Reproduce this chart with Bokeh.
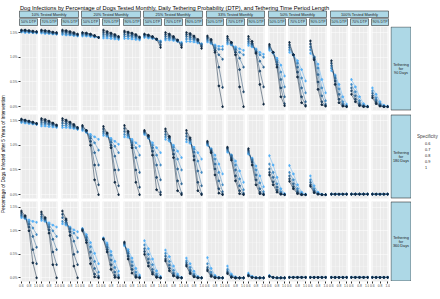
import math
from bokeh.plotting import figure
from bokeh.layouts import row, column
from bokeh.core.properties import value
from bokeh.models import (Range1d, LinearAxis, FixedTicker, PrintfTickFormatter, Label,
                          Legend, LegendItem, Spacer, ColumnDataSource)
from bokeh.embed import file_html
from bokeh.resources import INLINE

# ---------------- data ----------------
SENS = [0.6, 0.7, 0.8, 0.9, 1.0]
SPECS = [0.6, 0.7, 0.8, 0.9, 1.0]
SPEC_LABELS = ["0.6", "0.7", "0.8", "0.9", "1"]
TESTED = ["10% Tested Monthly", "20% Tested Monthly", "25% Tested Monthly",
          "33% Tested Monthly", "50% Tested Monthly", "100% Tested Monthly"]
DTP = ["50% DTP", "70% DTP", "90% DTP"]
PERIODS = ["Tethering\nfor\n90 Days", "Tethering\nfor\n180 Days", "Tethering\nfor\n360 Days"]
Y_TICKS = [0.0, 0.5, 1.0, 1.5]
X_TICKS = [0.6, 0.8, 1.0]

# % of dogs infected; each list: 18 panels (tested x DTP), 5 sensitivities each
INF90_SPEC06 = [
    [1.51, 1.50, 1.50, 1.50, 1.49], [1.49, 1.48, 1.48, 1.47, 1.47], [1.46, 1.45, 1.45, 1.44, 1.43],
    [1.43, 1.43, 1.42, 1.41, 1.40], [1.39, 1.39, 1.38, 1.37, 1.36], [1.38, 1.38, 1.37, 1.36, 1.35],
    [1.40, 1.39, 1.38, 1.36, 1.33], [1.35, 1.35, 1.34, 1.32, 1.30], [1.32, 1.32, 1.31, 1.29, 1.27],
    [1.31, 1.28, 1.25, 1.22, 1.22], [1.27, 1.25, 1.21, 1.17, 1.14], [1.24, 1.21, 1.17, 1.10, 1.06],
    [1.14, 1.08, 0.98, 0.84, 0.62], [1.10, 1.04, 0.93, 0.75, 0.52], [1.08, 1.00, 0.86, 0.55, 0.28],
    [0.73, 0.64, 0.45, 0.20, 0.05], [0.55, 0.40, 0.20, 0.06, 0.01], [0.38, 0.25, 0.10, 0.03, 0.01]]
INF90_SPEC07 = [
    [1.52, 1.52, 1.51, 1.50, 1.50], [1.51, 1.50, 1.49, 1.48, 1.47], [1.48, 1.47, 1.46, 1.45, 1.44],
    [1.45, 1.45, 1.44, 1.42, 1.40], [1.43, 1.43, 1.42, 1.40, 1.38], [1.42, 1.42, 1.41, 1.39, 1.37],
    [1.42, 1.41, 1.39, 1.36, 1.32], [1.38, 1.38, 1.36, 1.33, 1.28], [1.37, 1.37, 1.35, 1.31, 1.27],
    [1.34, 1.29, 1.22, 1.16, 1.16], [1.30, 1.26, 1.18, 1.10, 1.05], [1.28, 1.23, 1.15, 1.05, 1.00],
    [1.17, 1.09, 0.94, 0.70, 0.40], [1.15, 1.05, 0.88, 0.58, 0.28], [1.15, 1.01, 0.78, 0.38, 0.12],
    [0.78, 0.62, 0.36, 0.10, 0.02], [0.45, 0.30, 0.12, 0.03, 0.00], [0.32, 0.18, 0.06, 0.01, 0.00]]
INF90_SPEC08 = [
    [1.53, 1.53, 1.52, 1.51, 1.51], [1.52, 1.51, 1.50, 1.49, 1.48], [1.51, 1.50, 1.48, 1.47, 1.45],
    [1.47, 1.46, 1.45, 1.43, 1.40], [1.47, 1.46, 1.44, 1.42, 1.40], [1.46, 1.45, 1.44, 1.42, 1.39],
    [1.44, 1.43, 1.40, 1.36, 1.30], [1.42, 1.41, 1.38, 1.33, 1.27], [1.42, 1.41, 1.38, 1.33, 1.25],
    [1.37, 1.31, 1.18, 1.05, 0.96], [1.34, 1.28, 1.15, 0.98, 0.80], [1.32, 1.26, 1.12, 0.92, 0.80],
    [1.20, 1.10, 0.90, 0.55, 0.20], [1.20, 1.05, 0.80, 0.38, 0.10], [1.21, 1.00, 0.65, 0.22, 0.05],
    [0.83, 0.58, 0.25, 0.05, 0.01], [0.38, 0.22, 0.07, 0.01, 0.00], [0.27, 0.13, 0.04, 0.01, 0.00]]
INF90_SPEC09 = [
    [1.54, 1.54, 1.53, 1.52, 1.51], [1.54, 1.53, 1.52, 1.50, 1.49], [1.53, 1.52, 1.50, 1.48, 1.46],
    [1.49, 1.48, 1.46, 1.43, 1.40], [1.51, 1.49, 1.47, 1.44, 1.41], [1.50, 1.49, 1.47, 1.44, 1.40],
    [1.46, 1.44, 1.41, 1.36, 1.25], [1.46, 1.44, 1.40, 1.34, 1.24], [1.46, 1.45, 1.41, 1.34, 1.22],
    [1.40, 1.34, 1.14, 0.80, 0.39], [1.38, 1.30, 1.10, 0.75, 0.30], [1.37, 1.28, 1.10, 0.72, 0.40],
    [1.23, 1.10, 0.85, 0.38, 0.06], [1.25, 1.05, 0.70, 0.20, 0.03], [1.27, 0.98, 0.50, 0.10, 0.02],
    [0.88, 0.52, 0.15, 0.02, 0.00], [0.32, 0.15, 0.04, 0.01, 0.00], [0.22, 0.09, 0.02, 0.00, 0.00]]
INF90_SPEC10 = [
    [1.55, 1.55, 1.54, 1.53, 1.52], [1.55, 1.54, 1.53, 1.51, 1.50], [1.55, 1.54, 1.52, 1.50, 1.47],
    [1.50, 1.49, 1.47, 1.44, 1.40], [1.55, 1.52, 1.49, 1.46, 1.42], [1.53, 1.51, 1.49, 1.46, 1.41],
    [1.47, 1.45, 1.42, 1.37, 1.20], [1.50, 1.47, 1.42, 1.35, 1.20], [1.50, 1.48, 1.43, 1.36, 1.18],
    [1.43, 1.36, 1.10, 0.42, 0.00], [1.42, 1.30, 1.05, 0.40, 0.00], [1.42, 1.32, 1.08, 0.45, 0.05],
    [1.26, 1.10, 0.80, 0.20, 0.02], [1.30, 1.05, 0.60, 0.08, 0.01], [1.33, 0.95, 0.35, 0.04, 0.01],
    [0.93, 0.45, 0.08, 0.01, 0.00], [0.25, 0.10, 0.02, 0.00, 0.00], [0.18, 0.06, 0.01, 0.00, 0.00]]

INF180_SPEC06 = [
    [1.46, 1.45, 1.44, 1.43, 1.42], [1.39, 1.39, 1.38, 1.37, 1.36], [1.36, 1.36, 1.35, 1.34, 1.32],
    [1.30, 1.26, 1.22, 1.17, 1.12], [1.20, 1.18, 1.14, 1.08, 1.02], [1.17, 1.16, 1.12, 1.05, 0.98],
    [1.22, 1.14, 1.05, 0.95, 0.85], [1.12, 1.08, 1.00, 0.88, 0.75], [1.07, 1.04, 0.96, 0.85, 0.72],
    [1.00, 0.93, 0.80, 0.62, 0.42], [0.86, 0.80, 0.68, 0.48, 0.25], [0.82, 0.74, 0.58, 0.38, 0.16],
    [0.79, 0.60, 0.35, 0.12, 0.02], [0.59, 0.42, 0.20, 0.05, 0.01], [0.38, 0.18, 0.05, 0.01, 0.00],
    [0.01, 0.01, 0.01, 0.01, 0.01], [0.01, 0.01, 0.01, 0.01, 0.01], [0.01, 0.01, 0.01, 0.01, 0.01]]
INF180_SPEC07 = [
    [1.48, 1.47, 1.46, 1.44, 1.43], [1.43, 1.43, 1.42, 1.40, 1.38], [1.40, 1.40, 1.38, 1.36, 1.33],
    [1.32, 1.27, 1.18, 1.05, 0.90], [1.24, 1.20, 1.10, 0.98, 0.85], [1.22, 1.19, 1.08, 0.95, 0.80],
    [1.24, 1.15, 1.00, 0.80, 0.60], [1.17, 1.11, 0.96, 0.72, 0.50], [1.12, 1.07, 0.92, 0.68, 0.45],
    [1.02, 0.92, 0.72, 0.45, 0.20], [0.89, 0.80, 0.60, 0.32, 0.10], [0.84, 0.72, 0.50, 0.24, 0.06],
    [0.62, 0.45, 0.22, 0.06, 0.01], [0.45, 0.30, 0.12, 0.02, 0.00], [0.30, 0.12, 0.03, 0.00, 0.00],
    [0.01, 0.01, 0.01, 0.01, 0.01], [0.01, 0.01, 0.01, 0.01, 0.01], [0.01, 0.01, 0.01, 0.01, 0.01]]
INF180_SPEC08 = [
    [1.50, 1.49, 1.47, 1.45, 1.43], [1.47, 1.46, 1.44, 1.42, 1.39], [1.45, 1.44, 1.42, 1.38, 1.34],
    [1.35, 1.28, 1.14, 0.85, 0.60], [1.28, 1.22, 1.06, 0.78, 0.50], [1.28, 1.22, 1.05, 0.75, 0.45],
    [1.26, 1.16, 0.95, 0.60, 0.30], [1.22, 1.14, 0.90, 0.52, 0.22], [1.18, 1.10, 0.86, 0.48, 0.18],
    [1.04, 0.90, 0.62, 0.28, 0.06], [0.92, 0.78, 0.50, 0.18, 0.03], [0.87, 0.70, 0.40, 0.12, 0.02],
    [0.52, 0.35, 0.15, 0.03, 0.00], [0.38, 0.22, 0.07, 0.01, 0.00], [0.25, 0.08, 0.02, 0.00, 0.00],
    [0.01, 0.01, 0.01, 0.01, 0.01], [0.01, 0.01, 0.01, 0.01, 0.01], [0.01, 0.01, 0.01, 0.01, 0.01]]
INF180_SPEC09 = [
    [1.52, 1.50, 1.48, 1.46, 1.44], [1.51, 1.49, 1.47, 1.44, 1.40], [1.50, 1.48, 1.45, 1.40, 1.35],
    [1.38, 1.30, 1.08, 0.60, 0.20], [1.33, 1.24, 1.00, 0.50, 0.18], [1.34, 1.25, 1.00, 0.50, 0.15],
    [1.28, 1.18, 0.88, 0.35, 0.05], [1.28, 1.16, 0.82, 0.28, 0.03], [1.24, 1.12, 0.78, 0.25, 0.02],
    [1.06, 0.88, 0.52, 0.12, 0.01], [0.94, 0.74, 0.38, 0.08, 0.01], [0.90, 0.66, 0.30, 0.05, 0.00],
    [0.45, 0.26, 0.09, 0.01, 0.00], [0.32, 0.16, 0.04, 0.00, 0.00], [0.20, 0.06, 0.01, 0.00, 0.00],
    [0.01, 0.01, 0.01, 0.01, 0.01], [0.01, 0.01, 0.01, 0.01, 0.01], [0.01, 0.01, 0.01, 0.01, 0.01]]
INF180_SPEC10 = [
    [1.53, 1.51, 1.49, 1.47, 1.44], [1.54, 1.52, 1.49, 1.45, 1.41], [1.54, 1.51, 1.47, 1.42, 1.36],
    [1.40, 1.30, 1.00, 0.30, 0.00], [1.38, 1.25, 0.95, 0.25, 0.00], [1.40, 1.28, 0.95, 0.25, 0.00],
    [1.30, 1.20, 0.80, 0.10, 0.00], [1.33, 1.18, 0.75, 0.08, 0.00], [1.30, 1.15, 0.70, 0.08, 0.00],
    [1.08, 0.85, 0.40, 0.03, 0.00], [0.96, 0.70, 0.28, 0.02, 0.00], [0.93, 0.60, 0.20, 0.02, 0.00],
    [0.40, 0.20, 0.05, 0.01, 0.00], [0.27, 0.12, 0.02, 0.00, 0.00], [0.17, 0.04, 0.01, 0.00, 0.00],
    [0.01, 0.01, 0.01, 0.01, 0.01], [0.01, 0.01, 0.01, 0.01, 0.01], [0.01, 0.01, 0.01, 0.01, 0.01]]

INF360_SPEC06 = [
    [1.28, 1.26, 1.23, 1.20, 1.18], [1.22, 1.20, 1.17, 1.12, 1.08], [1.15, 1.12, 1.08, 1.02, 0.98],
    [1.05, 0.92, 0.75, 0.52, 0.30], [0.85, 0.74, 0.56, 0.35, 0.14], [0.68, 0.60, 0.42, 0.20, 0.06],
    [0.79, 0.62, 0.40, 0.15, 0.03], [0.59, 0.45, 0.25, 0.08, 0.01], [0.42, 0.30, 0.14, 0.03, 0.00],
    [0.43, 0.20, 0.05, 0.01, 0.00], [0.25, 0.08, 0.02, 0.00, 0.00], [0.10, 0.03, 0.01, 0.00, 0.00],
    [0.05, 0.01, 0.00, 0.00, 0.00], [0.01, 0.01, 0.01, 0.01, 0.01], [0.01, 0.01, 0.01, 0.01, 0.01],
    [0.01, 0.01, 0.01, 0.01, 0.01], [0.01, 0.01, 0.01, 0.01, 0.01], [0.01, 0.01, 0.01, 0.01, 0.01]]
INF360_SPEC07 = [
    [1.31, 1.27, 1.19, 1.06, 0.92], [1.26, 1.22, 1.13, 1.00, 0.88], [1.20, 1.15, 1.06, 0.95, 0.85],
    [1.04, 0.88, 0.66, 0.35, 0.12], [0.84, 0.70, 0.48, 0.22, 0.06], [0.70, 0.56, 0.34, 0.12, 0.03],
    [0.70, 0.50, 0.28, 0.08, 0.01], [0.52, 0.35, 0.16, 0.04, 0.00], [0.36, 0.22, 0.08, 0.01, 0.00],
    [0.30, 0.12, 0.03, 0.00, 0.00], [0.18, 0.05, 0.01, 0.00, 0.00], [0.07, 0.02, 0.00, 0.00, 0.00],
    [0.04, 0.01, 0.00, 0.00, 0.00], [0.01, 0.01, 0.01, 0.01, 0.01], [0.01, 0.01, 0.01, 0.01, 0.01],
    [0.01, 0.01, 0.01, 0.01, 0.01], [0.01, 0.01, 0.01, 0.01, 0.01], [0.01, 0.01, 0.01, 0.01, 0.01]]
INF360_SPEC08 = [
    [1.34, 1.28, 1.14, 0.88, 0.65], [1.30, 1.24, 1.08, 0.82, 0.60], [1.28, 1.18, 1.04, 0.78, 0.55],
    [1.03, 0.85, 0.55, 0.20, 0.04], [0.83, 0.65, 0.38, 0.12, 0.02], [0.72, 0.52, 0.26, 0.06, 0.01],
    [0.62, 0.40, 0.18, 0.04, 0.00], [0.46, 0.27, 0.10, 0.02, 0.00], [0.32, 0.16, 0.05, 0.01, 0.00],
    [0.22, 0.07, 0.01, 0.00, 0.00], [0.14, 0.03, 0.00, 0.00, 0.00], [0.06, 0.01, 0.00, 0.00, 0.00],
    [0.04, 0.01, 0.00, 0.00, 0.00], [0.01, 0.01, 0.01, 0.01, 0.01], [0.01, 0.01, 0.01, 0.01, 0.01],
    [0.01, 0.01, 0.01, 0.01, 0.01], [0.01, 0.01, 0.01, 0.01, 0.01], [0.01, 0.01, 0.01, 0.01, 0.01]]
INF360_SPEC09 = [
    [1.38, 1.30, 1.08, 0.60, 0.30], [1.35, 1.26, 1.02, 0.55, 0.28], [1.35, 1.22, 0.98, 0.50, 0.28],
    [1.02, 0.80, 0.42, 0.08, 0.01], [0.82, 0.60, 0.28, 0.05, 0.00], [0.74, 0.46, 0.18, 0.03, 0.00],
    [0.56, 0.32, 0.12, 0.02, 0.00], [0.40, 0.20, 0.06, 0.01, 0.00], [0.28, 0.12, 0.03, 0.00, 0.00],
    [0.18, 0.05, 0.01, 0.00, 0.00], [0.11, 0.02, 0.00, 0.00, 0.00], [0.05, 0.01, 0.00, 0.00, 0.00],
    [0.03, 0.01, 0.00, 0.00, 0.00], [0.01, 0.01, 0.01, 0.01, 0.01], [0.01, 0.01, 0.01, 0.01, 0.01],
    [0.01, 0.01, 0.01, 0.01, 0.01], [0.01, 0.01, 0.01, 0.01, 0.01], [0.01, 0.01, 0.01, 0.01, 0.01]]
INF360_SPEC10 = [
    [1.42, 1.32, 1.00, 0.32, 0.00], [1.40, 1.28, 0.95, 0.28, 0.00], [1.42, 1.25, 0.90, 0.25, 0.00],
    [1.00, 0.75, 0.30, 0.02, 0.00], [0.82, 0.55, 0.18, 0.01, 0.00], [0.76, 0.40, 0.10, 0.01, 0.00],
    [0.50, 0.25, 0.08, 0.01, 0.00], [0.36, 0.15, 0.04, 0.00, 0.00], [0.25, 0.09, 0.02, 0.00, 0.00],
    [0.15, 0.03, 0.00, 0.00, 0.00], [0.09, 0.01, 0.00, 0.00, 0.00], [0.04, 0.01, 0.00, 0.00, 0.00],
    [0.03, 0.01, 0.00, 0.00, 0.00], [0.01, 0.01, 0.01, 0.01, 0.01], [0.01, 0.01, 0.01, 0.01, 0.01],
    [0.01, 0.01, 0.01, 0.01, 0.01], [0.01, 0.01, 0.01, 0.01, 0.01], [0.01, 0.01, 0.01, 0.01, 0.01]]

INF = [
    [INF90_SPEC06, INF90_SPEC07, INF90_SPEC08, INF90_SPEC09, INF90_SPEC10],
    [INF180_SPEC06, INF180_SPEC07, INF180_SPEC08, INF180_SPEC09, INF180_SPEC10],
    [INF360_SPEC06, INF360_SPEC07, INF360_SPEC08, INF360_SPEC09, INF360_SPEC10],
]

# ---------------- style ----------------
FONT = "Liberation Sans"
PANEL_BG = "#EBEBEB"
STRIP_FILL = "#ADD8E6"
STRIP_LINE = "#333333"
LIGHT, DARK = "#56B1F7", "#132B43"


def _lin(c):
    c = c / 255
    return c / 12.92 if c <= 0.04045 else ((c + 0.055) / 1.055) ** 2.4


def _gam(c):
    c = 12.92 * c if c <= 0.0031308 else 1.055 * c ** (1 / 2.4) - 0.055
    return max(0, min(255, round(c * 255)))


def hex_to_lab(h):
    r, g, b = [_lin(int(h[i:i + 2], 16)) for i in (1, 3, 5)]
    X = (0.4124 * r + 0.3576 * g + 0.1805 * b) / 0.95047
    Y = 0.2126 * r + 0.7152 * g + 0.0722 * b
    Z = (0.0193 * r + 0.1192 * g + 0.9505 * b) / 1.08883
    f = lambda t: t ** (1 / 3) if t > 216 / 24389 else (24389 / 27 * t + 16) / 116
    fx, fy, fz = f(X), f(Y), f(Z)
    return (116 * fy - 16, 500 * (fx - fy), 200 * (fy - fz))


def lab_to_hex(L_, a, b):
    fy = (L_ + 16) / 116
    fx, fz = fy + a / 500, fy - b / 200
    finv = lambda t: t ** 3 if t ** 3 > 216 / 24389 else (116 * t - 16) / (24389 / 27)
    X, Y, Z = finv(fx) * 0.95047, finv(fy), finv(fz) * 1.08883
    r = 3.2406 * X - 1.5372 * Y - 0.4986 * Z
    g = -0.9689 * X + 1.8758 * Y + 0.0415 * Z
    bb = 0.0557 * X - 0.2040 * Y + 1.0570 * Z
    return "#%02x%02x%02x" % tuple(_gam(max(0.0, v)) for v in (r, g, bb))


lab_l, lab_d = hex_to_lab(LIGHT), hex_to_lab(DARK)
COLORS = []
for s in SPECS:
    t = (s - SPECS[0]) / (SPECS[-1] - SPECS[0])
    COLORS.append(lab_to_hex(*[lab_l[k] * (1 - t) + lab_d[k] * t for k in range(3)]))

YTW = 6
L = [round(19.3 + 20.69 * i) for i in range(18)]
R = [round(36.7 + 20.69 * i) for i in range(18)]
FHS = [84, 84, 80]
HEAD = 26
ROW_GAP = [4, 3, 11]


def base_fig(w, h, left=0, right=0, top=0, bottom=0, xr=(0, 1), yr=(0, 1), fill="white",
             line=None):
    f = figure(width=w, height=h, x_range=Range1d(*xr), y_range=Range1d(*yr),
               x_axis_location=None, y_axis_location=None, toolbar_location=None,
               title_location=None, output_backend="svg",
               min_border_left=left, min_border_right=right,
               min_border_top=top, min_border_bottom=bottom,
               background_fill_color=fill, border_fill_color="white", outline_line_color=line)
    f.outline_line_width = 0.7
    return f


def panel(r, c):
    lb = L[0] - YTW if c == 0 else 2
    rb = (L[c + 1] - 2 - R[c]) if c < 17 else 2
    bottom = ROW_GAP[r]
    p = base_fig(lb + (R[c] - L[c]) + rb, FHS[r] + bottom, left=lb, right=rb, bottom=bottom,
                 xr=(0.58, 1.02), yr=(-0.0775, 1.6225), fill=PANEL_BG)
    p.xgrid.ticker = FixedTicker(ticks=X_TICKS, minor_ticks=[0.7, 0.9])
    p.ygrid.ticker = FixedTicker(ticks=Y_TICKS, minor_ticks=[0.25, 0.75, 1.25])
    for g in p.grid:
        g.grid_line_color = "white"
        g.grid_line_width = 0.5
        g.minor_grid_line_color = "white"
        g.minor_grid_line_width = 0.25
    xs, ys, cols = [], [], []
    for k in range(len(SPECS)):
        xs.append(SENS)
        ys.append(INF[r][k][c])
        cols.append(COLORS[k])
    p.multi_line(xs="xs", ys="ys", line_color="c", line_width=0.5,
                 source=ColumnDataSource(dict(xs=xs, ys=ys, c=cols)))
    px, py, pc = [], [], []
    for k in range(len(SPECS)):
        px += SENS
        py += INF[r][k][c]
        pc += [COLORS[k]] * len(SENS)
    p.scatter(x="x", y="y", color="c", size=1.8,
              source=ColumnDataSource(dict(x=px, y=py, c=pc)))
    common = dict(axis_line_color=None, major_tick_line_color="#333333", major_tick_out=2,
                  major_tick_in=0, minor_tick_line_color=None, major_label_text_font=FONT,
                  major_label_text_font_size="3.3px", major_label_text_color="#4D4D4D")
    if c == 0:
        p.add_layout(LinearAxis(ticker=FixedTicker(ticks=Y_TICKS), major_label_standoff=1,
                                formatter=PrintfTickFormatter(format="%.1f%%"), **common), "left")
    if r == 2:
        p.add_layout(LinearAxis(ticker=FixedTicker(ticks=X_TICKS), major_label_standoff=0,
                                formatter=PrintfTickFormatter(format="%.1f"), **common), "below")
    return p


# ---------------- header: title + facet strips ----------------
header = base_fig(440, HEAD, xr=(0, 440), yr=(HEAD, 0))
header.grid.visible = False
header.add_layout(Label(x=19.5, y=7.4, text="Dog Infections by Percentage of Dogs Tested Monthly, "
                        "Daily Tethering Probability (DTP), and Tethering Time Period Length",
                        text_font=FONT, text_font_size="5.7px", text_color="black",
                        text_baseline="alphabetic"))
gsrc = ColumnDataSource(dict(
    left=[L[3 * k] for k in range(len(TESTED))],
    right=[R[3 * k + 2] for k in range(len(TESTED))],
    mid=[(L[3 * k] + R[3 * k + 2]) / 2 for k in range(len(TESTED))],
    label=TESTED))
header.quad(left="left", right="right", top=10.5, bottom=17, source=gsrc,
            fill_color=STRIP_FILL, line_color=STRIP_LINE, line_width=0.6)
header.text(x="mid", y=13.8, text="label", source=gsrc, text_align="center",
            text_baseline="middle", text_font=value(FONT), text_font_size=value("3.9px"),
            text_color="#1A1A1A")
ssrc = ColumnDataSource(dict(
    left=L, right=R, mid=[(a + b) / 2 for a, b in zip(L, R)],
    label=[DTP[c % 3] for c in range(18)]))
header.quad(left="left", right="right", top=18.2, bottom=25, source=ssrc,
            fill_color=STRIP_FILL, line_color=STRIP_LINE, line_width=0.6)
header.text(x="mid", y=21.7, text="label", source=ssrc, text_align="center",
            text_baseline="middle", text_font=value(FONT), text_font_size=value("3.5px"),
            text_color="#1A1A1A")

# ---------------- body ----------------
panel_rows = [row([panel(r, c) for c in range(18)], spacing=0) for r in range(3)]
XLAB_H = 299 - HEAD - sum(FHS) - sum(ROW_GAP)
xlab = base_fig(390 - YTW, XLAB_H, xr=(YTW, 390), yr=(0, XLAB_H))
xlab.grid.visible = False
xlab.add_layout(Label(x=(L[0] + R[17]) / 2, y=XLAB_H / 2 + 0.5, text="Sensitivity",
                      text_align="center", text_baseline="middle", text_font=FONT,
                      text_font_size="4.4px", text_color="black"))
panel_area = column(panel_rows + [xlab], spacing=0)

RS_H = sum(FHS) + ROW_GAP[0] + ROW_GAP[1]
ytitle = base_fig(YTW, RS_H)
ytitle.grid.visible = False
ytitle.add_layout(Label(x=0.55, y=0.5, text="Percentage of Dogs Infected after 5 Years of Intervention",
                        angle=math.pi / 2, text_align="center", text_baseline="middle",
                        text_font=FONT, text_font_size="4.7px", text_color="black"))

rstrip_fig = base_fig(21, RS_H, xr=(0, 21), yr=(RS_H, 0))
rstrip_fig.grid.visible = False
tops = [0.5, FHS[0] + ROW_GAP[0] + 0.5, FHS[0] + ROW_GAP[0] + FHS[1] + ROW_GAP[1] + 0.5]
rsrc = ColumnDataSource(dict(top=tops, bottom=[t + h - 1 for t, h in zip(tops, FHS)],
                             label=PERIODS, mid=[t + h / 2 for t, h in zip(tops, FHS)]))
rstrip_fig.quad(left=0.5, right=20.5, top="top", bottom="bottom", source=rsrc,
                fill_color=STRIP_FILL, line_color=STRIP_LINE, line_width=0.6)
rstrip_fig.text(x=10.5, y="mid", text="label", source=rsrc, text_align="center",
                text_baseline="middle", text_font=value(FONT), text_font_size=value("3.8px"),
                text_color="#1A1A1A", text_line_height=1.1)

legfig = base_fig(29, 48, left=6)
legfig.grid.visible = False
items = []
for k in range(len(SPECS)):
    lr = legfig.line(x=[], y=[], line_color=COLORS[k], line_width=0.5)
    sr = legfig.scatter(x=[], y=[], color=COLORS[k], size=1.8)
    items.append(LegendItem(label=SPEC_LABELS[k], renderers=[lr, sr]))
leg = Legend(items=items, title="Specificity", location="top_left", margin=0, padding=1,
             spacing=1, glyph_width=6, glyph_height=5, label_height=5, label_width=5,
             label_standoff=2, title_standoff=2, border_line_color=None,
             background_fill_alpha=0, title_text_font=FONT, title_text_font_size="4.6px",
             title_text_font_style="normal", label_text_font=FONT, label_text_font_size="3.8px",
             label_text_color="#1A1A1A")
legfig.add_layout(leg)
legcol = column([Spacer(width=29, height=108), legfig], spacing=0)

body = row([ytitle, panel_area, rstrip_fig, legcol], spacing=0)
root = column([header, body], spacing=0)

open("out.html", "w").write(file_html(root, INLINE))
